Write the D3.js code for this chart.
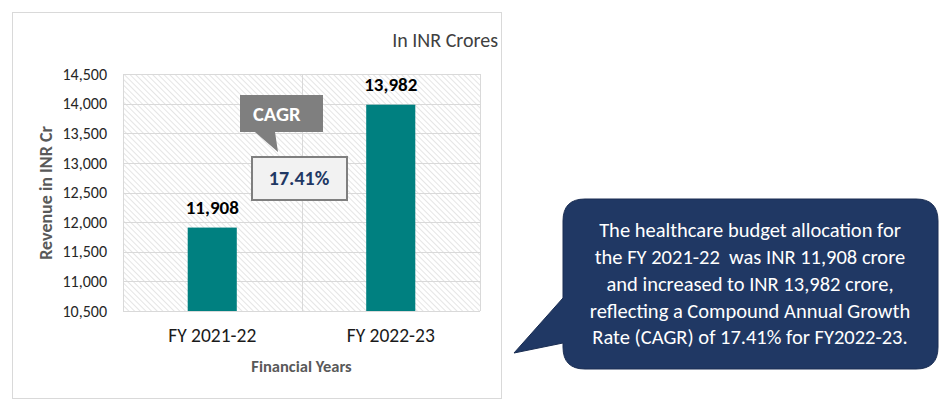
<!DOCTYPE html>
<html>
<head>
<meta charset="utf-8">
<script src="https://cdn.jsdelivr.net/npm/d3@7"></script>
<style>
  body { margin: 0; background: #fff; }
  svg text { font-family: Carlito, Calibri, Lato, "Open Sans", sans-serif; }
</style>
</head>
<body>
<div class="chart"></div>
<script>
var categories = ["FY 2021-22", "FY 2022-23"];
var revenue = [11908, 13982];
var yTicks = [10500, 11000, 11500, 12000, 12500, 13000, 13500, 14000, 14500];
var cagrText = "17.41%";
var noteLines = [
  "The healthcare budget allocation for",
  "the FY 2021-22  was INR 11,908 crore",
  "and increased to INR 13,982 crore,",
  "reflecting a Compound Annual Growth",
  "Rate (CAGR) of 17.41% for FY2022-23."
];

var svgWidth = 949;
var svgHeight = 405;

var margin = { top: 74, left: 123 };
var width = 357;
var height = 237;

var svg = d3.select(".chart")
  .append("svg")
  .attr("width", svgWidth)
  .attr("height", svgHeight);

// hatch pattern for the plot background
var defs = svg.append("defs");
var pat = defs.append("pattern")
  .attr("id", "hatch")
  .attr("patternUnits", "userSpaceOnUse")
  .attr("width", 4)
  .attr("height", 4)
  .attr("patternTransform", "rotate(-45)");
pat.append("rect").attr("width", 4).attr("height", 4).attr("fill", "#fff");
pat.append("line")
  .attr("x1", 0).attr("y1", 0).attr("x2", 0).attr("y2", 4)
  .attr("stroke", "#d4d4d4").attr("stroke-width", 1.2);

// outer chart border
svg.append("rect")
  .attr("x", 12.5).attr("y", 12.5)
  .attr("width", 489).attr("height", 386)
  .attr("fill", "#fff")
  .attr("stroke", "#d9d9d9");

svg.append("text")
  .attr("x", 498).attr("y", 47)
  .attr("text-anchor", "end")
  .attr("font-size", 20)
  .attr("fill", "#404040")
  .text("In INR Crores");

var chartGroup = svg.append("g")
  .attr("transform", `translate(${margin.left}, ${margin.top})`);

var xScale = d3.scaleBand()
  .domain(categories)
  .range([0, width])
  .paddingInner(0.725)
  .paddingOuter(0.3625);

var yScale = d3.scaleLinear()
  .domain([d3.min(yTicks), d3.max(yTicks)])
  .range([height, 0]);

chartGroup.append("rect")
  .attr("width", width).attr("height", height)
  .attr("fill", "url(#hatch)");

// horizontal gridlines
chartGroup.selectAll(".hgrid")
  .data(yTicks)
  .enter()
  .append("line")
  .attr("x1", 0).attr("x2", width)
  .attr("y1", function(d) { return Math.round(yScale(d)) + 0.5; })
  .attr("y2", function(d) { return Math.round(yScale(d)) + 0.5; })
  .attr("stroke", "#d9d9d9").attr("stroke-width", 1);

// vertical gridlines (category boundaries)
var vLines = [0, width / 2, width];
chartGroup.selectAll(".vgrid")
  .data(vLines)
  .enter()
  .append("line")
  .attr("x1", function(d) { return Math.round(d) + 0.5; })
  .attr("x2", function(d) { return Math.round(d) + 0.5; })
  .attr("y1", 0).attr("y2", height)
  .attr("stroke", "#d9d9d9");

// y axis labels
var leftAxis = d3.axisLeft(yScale)
  .tickValues(yTicks)
  .tickSize(0)
  .tickPadding(16)
  .tickFormat(d3.format(","));
var yAxisG = chartGroup.append("g").call(leftAxis);
yAxisG.select(".domain").remove();
yAxisG.selectAll("text")
  .attr("font-size", 16)
  .attr("fill", "#262626")
  .style("font-family", "Carlito, Calibri, Lato, sans-serif");

// x axis labels
var bottomAxis = d3.axisBottom(xScale).tickSize(0).tickPadding(17);
var xAxisG = chartGroup.append("g")
  .attr("transform", `translate(0, ${height})`)
  .call(bottomAxis);
xAxisG.select(".domain").remove();
xAxisG.selectAll("text")
  .attr("font-size", 19.5)
  .attr("fill", "#1a1a1a")
  .style("font-family", "Carlito, Calibri, Lato, sans-serif");

// bars
chartGroup.selectAll(".bar")
  .data(revenue)
  .enter()
  .append("rect")
  .attr("x", function(d, i) { return xScale(categories[i]); })
  .attr("y", function(d) { return yScale(d); })
  .attr("width", xScale.bandwidth())
  .attr("height", function(d) { return height - yScale(d); })
  .attr("fill", "#008080");

// value labels
chartGroup.selectAll(".val")
  .data(revenue)
  .enter()
  .append("text")
  .attr("x", function(d, i) { return xScale(categories[i]) + xScale.bandwidth() / 2; })
  .attr("y", function(d) { return yScale(d) - 14; })
  .attr("text-anchor", "middle")
  .attr("font-size", 19)
  .attr("font-weight", "bold")
  .attr("fill", "#000")
  .text(function(d) { return d3.format(",")(d); });

// axis titles
chartGroup.append("text")
  .attr("transform", "rotate(-90)")
  .attr("x", 0 - (193 - margin.top))
  .attr("y", 46 - margin.left)
  .attr("dy", "0.35em")
  .attr("text-anchor", "middle")
  .attr("font-size", 18)
  .attr("font-weight", "bold")
  .attr("fill", "#595959")
  .text("Revenue in INR Cr");

chartGroup.append("text")
  .attr("x", width / 2)
  .attr("y", height + 55)
  .attr("dy", "0.35em")
  .attr("text-anchor", "middle")
  .attr("font-size", 16.5)
  .attr("font-weight", "bold")
  .attr("fill", "#595959")
  .text("Financial Years");

// CAGR callout
svg.append("path")
  .attr("d", "M240,95 H323 V132 H275 L278,152 L255,132 H240 Z")
  .attr("fill", "#7f7f7f");
svg.append("text")
  .attr("x", 253).attr("y", 114)
  .attr("dy", "0.35em")
  .attr("font-size", 20.5)
  .attr("font-weight", "bold")
  .attr("fill", "#fff")
  .text("CAGR");

svg.append("rect")
  .attr("x", 252).attr("y", 157)
  .attr("width", 95).attr("height", 43)
  .attr("fill", "#f2f2f2")
  .attr("stroke", "#7f7f7f")
  .attr("stroke-width", 2);
svg.append("text")
  .attr("x", 299).attr("y", 178)
  .attr("dy", "0.35em")
  .attr("text-anchor", "middle")
  .attr("font-size", 20)
  .attr("font-weight", "bold")
  .attr("fill", "#1f3864")
  .text(cagrText);

// speech bubble note
var bx = 563, by = 199, bw = 375, bh = 170, r = 22;
var bubble = d3.path();
bubble.moveTo(bx + r, by);
bubble.lineTo(bx + bw - r, by);
bubble.quadraticCurveTo(bx + bw, by, bx + bw, by + r);
bubble.lineTo(bx + bw, by + bh - r);
bubble.quadraticCurveTo(bx + bw, by + bh, bx + bw - r, by + bh);
bubble.lineTo(bx + r, by + bh);
bubble.quadraticCurveTo(bx, by + bh, bx, by + bh - r);
bubble.lineTo(bx, 343);
bubble.lineTo(514, 353);
bubble.lineTo(bx, 298);
bubble.lineTo(bx, by + r);
bubble.quadraticCurveTo(bx, by, bx + r, by);
bubble.closePath();

svg.append("path")
  .attr("d", bubble.toString())
  .attr("fill", "#203864")
  .attr("stroke", "#1a2d52")
  .attr("stroke-width", 1);

svg.append("g")
  .selectAll("text")
  .data(noteLines)
  .enter()
  .append("text")
  .attr("x", 750)
  .attr("y", function(d, i) { return 230 + i * 26.8; })
  .attr("dy", "0.35em")
  .attr("text-anchor", "middle")
  .attr("font-size", 20.5)
  .attr("fill", "#fff")
  .style("white-space", "pre")
  .text(function(d) { return d; });
</script>
</body>
</html>
